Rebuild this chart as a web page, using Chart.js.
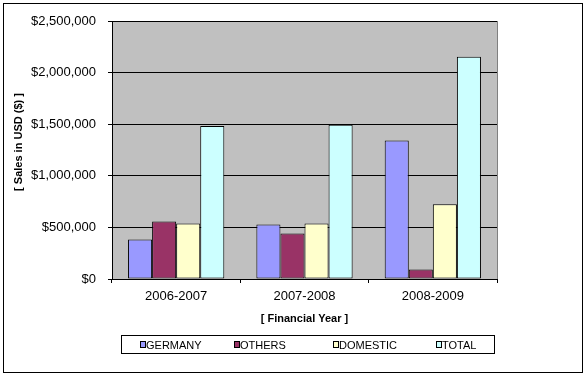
<!DOCTYPE html>
<html>
<head>
<meta charset="utf-8">
<script src="https://cdn.jsdelivr.net/npm/chart.js@4"></script>
<style>
  html, body { margin: 0; padding: 0; background: #fff; }
  #wrap { width: 587px; height: 376px; }
</style>
</head>
<body>
<div id="wrap"><canvas id="chart" width="587" height="376"></canvas></div>
<script>
// chart data
const years = ["2006-2007", "2007-2008", "2008-2009"];
const germany = [383000, 529000, 1342000];
const others = [558000, 442000, 91000];
const domestic = [539000, 539000, 724000];
const total = [1482000, 1495000, 2154000];

const seriesNames = ["GERMANY", "OTHERS", "DOMESTIC", "TOTAL"];
const seriesColors = ["#9999FF", "#993366", "#FFFFCC", "#CCFFFF"];

// legend box x positions (layout only)
const legendItemX = [140, 234, 333, 436];

const frameAndLegend = {
    id: "frameAndLegend",
    beforeDraw(chart) {
        const { ctx, chartArea } = chart;
        ctx.save();
        ctx.fillStyle = "#ffffff";
        ctx.fillRect(0, 0, chart.width, chart.height);
        ctx.fillStyle = "#C0C0C0";
        ctx.fillRect(chartArea.left, chartArea.top,
            chartArea.right - chartArea.left, chartArea.bottom - chartArea.top);
        ctx.restore();
    },
    afterDraw(chart) {
        const { ctx, chartArea } = chart;
        ctx.save();

        // gray plot border on the right
        ctx.strokeStyle = "#808080";
        ctx.lineWidth = 1;
        ctx.beginPath();
        ctx.moveTo(Math.round(chartArea.right) + 0.5, chartArea.top);
        ctx.lineTo(Math.round(chartArea.right) + 0.5, chartArea.bottom);
        ctx.stroke();

        // outer frame
        ctx.strokeStyle = "#000000";
        ctx.strokeRect(3.5, 3.5, 579, 369);

        // y axis title
        ctx.fillStyle = "#000000";
        ctx.font = "bold 11px 'Liberation Sans', Arial, sans-serif";
        ctx.textAlign = "center";
        ctx.textBaseline = "middle";
        ctx.translate(19, 142);
        ctx.rotate(-Math.PI / 2);
        ctx.fillText("[ Sales in USD ($) ]", 0, 0);
        ctx.setTransform(1, 0, 0, 1, 0, 0);

        // legend
        ctx.strokeRect(121.5, 335.5, 373, 18);
        ctx.font = "11px 'Liberation Sans', Arial, sans-serif";
        ctx.textAlign = "left";
        chart.data.datasets.forEach((ds, i) => {
            const x = legendItemX[i];
            ctx.fillStyle = ds.backgroundColor;
            ctx.fillRect(x, 341.5, 6, 6);
            ctx.strokeStyle = "#000000";
            ctx.strokeRect(x + 0.5, 341.5, 5, 6);
            ctx.fillStyle = "#000000";
            ctx.fillText(ds.label, x + 6, 345.5);
        });
        ctx.restore();
    },
};

const valueSets = [germany, others, domestic, total];

new Chart(document.getElementById("chart"), {
    type: "bar",
    data: {
        labels: years,
        datasets: valueSets.map((values, i) => ({
            label: seriesNames[i],
            data: values,
            backgroundColor: seriesColors[i],
            borderColor: "#000000",
            borderWidth: 1,
            borderSkipped: false,
            categoryPercentage: 0.75,
            barPercentage: 1.0,
        })),
    },
    options: {
        responsive: false,
        animation: false,
        devicePixelRatio: 1,
        layout: {
            padding: { left: 0, top: 21, right: 90, bottom: 50 },
        },
        plugins: {
            legend: { display: false },
            tooltip: { enabled: false },
        },
        scales: {
            x: {
                afterFit: (scale) => { scale.height = 47; },
                grid: {
                    display: true,
                    drawOnChartArea: false,
                    offset: true,
                    color: "#000000",
                    tickLength: 4,
                },
                border: { color: "#000000", width: 1 },
                ticks: {
                    color: "#000000",
                    padding: 6,
                    font: { family: "'Liberation Sans', Arial, sans-serif", size: 13 },
                },
                title: {
                    display: true,
                    text: "[ Financial Year ]",
                    color: "#000000",
                    padding: 0,
                    font: { family: "'Liberation Sans', Arial, sans-serif", size: 11, weight: "bold" },
                },
            },
            y: {
                min: 0,
                max: 2500000,
                afterFit: (scale) => { scale.width = 112; },
                grid: {
                    color: "#000000",
                    tickLength: 4,
                },
                border: { color: "#000000", width: 1 },
                ticks: {
                    stepSize: 500000,
                    color: "#000000",
                    padding: 12,
                    font: { family: "'Liberation Sans', Arial, sans-serif", size: 13 },
                    callback: (v) => "$" + Number(v).toLocaleString("en-US"),
                },
            },
        },
    },
    plugins: [frameAndLegend],
});
</script>
</body>
</html>
